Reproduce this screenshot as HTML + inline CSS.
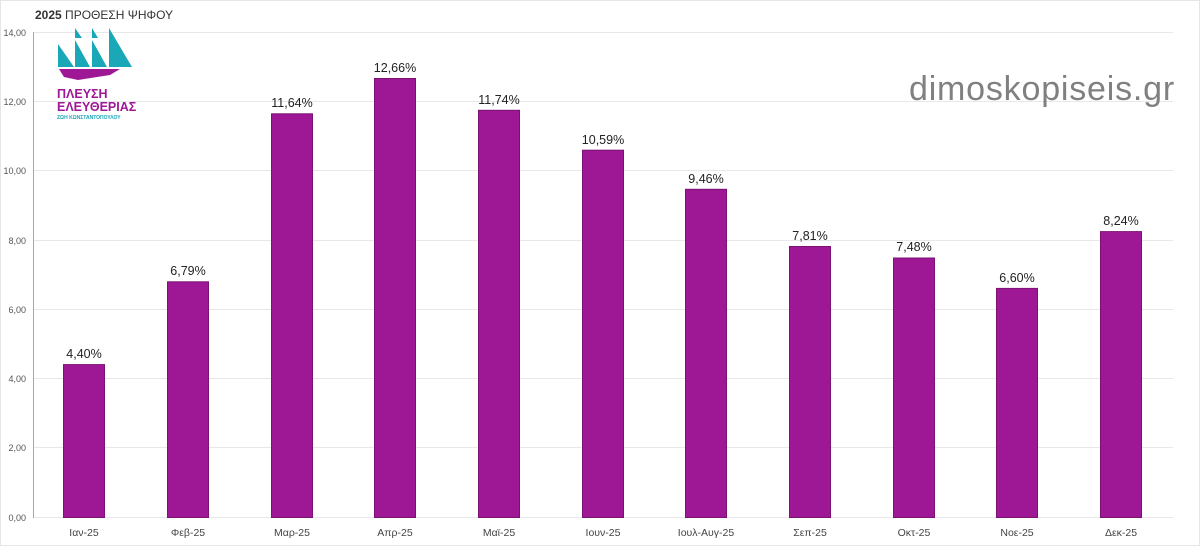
<!DOCTYPE html>
<html><head><meta charset="utf-8"><style>
html,body{margin:0;padding:0;background:#fff}
svg{display:block;font-family:"Liberation Sans",sans-serif}
</style></head><body>
<svg width="1200" height="546" viewBox="0 0 1200 546" xmlns="http://www.w3.org/2000/svg">
<rect x="0.5" y="0.5" width="1199" height="545" fill="#fff" stroke="#e6e6e6"/>
<text x="35" y="19" font-size="12" fill="#333"><tspan font-weight="bold">2025</tspan> ΠΡΟΘΕΣΗ ΨΗΦΟΥ</text>
<g stroke="#e8e8e8" stroke-width="1">
<line x1="33" y1="32.5" x2="1173" y2="32.5"/>
<line x1="33" y1="101.5" x2="1173" y2="101.5"/>
<line x1="33" y1="170.5" x2="1173" y2="170.5"/>
<line x1="33" y1="240.5" x2="1173" y2="240.5"/>
<line x1="33" y1="309.5" x2="1173" y2="309.5"/>
<line x1="33" y1="378.5" x2="1173" y2="378.5"/>
<line x1="33" y1="447.5" x2="1173" y2="447.5"/>
<line x1="33" y1="517.5" x2="1173" y2="517.5"/>
</g>
<line x1="33.5" y1="32" x2="33.5" y2="518" stroke="#9aaabb"/>
<g font-size="9" fill="#555" text-anchor="end">
<text x="26" y="36">14,00</text><text x="26" y="105">12,00</text><text x="26" y="174">10,00</text>
<text x="26" y="244">8,00</text><text x="26" y="313">6,00</text><text x="26" y="382">4,00</text>
<text x="26" y="451">2,00</text><text x="26" y="521">0,00</text>
</g>
<g fill="#9e1896" stroke="#7a1273" stroke-width="1">
<rect x="63.5" y="364.6" width="41" height="152.9"/>
<rect x="167.5" y="281.8" width="41" height="235.7"/>
<rect x="271.5" y="113.8" width="41" height="403.7"/>
<rect x="374.5" y="78.5" width="41" height="439"/>
<rect x="478.5" y="110.3" width="41" height="407.2"/>
<rect x="582.5" y="150.2" width="41" height="367.3"/>
<rect x="685.5" y="189.3" width="41" height="328.2"/>
<rect x="789.5" y="246.5" width="41" height="271"/>
<rect x="893.5" y="258" width="41" height="259.5"/>
<rect x="996.5" y="288.4" width="41" height="229.1"/>
<rect x="1100.5" y="231.6" width="41" height="285.9"/>
</g>
<g font-size="12.5" fill="#222" text-anchor="middle">
<text x="84" y="358">4,40%</text><text x="188" y="275">6,79%</text><text x="292" y="107">11,64%</text>
<text x="395" y="72">12,66%</text><text x="499" y="104">11,74%</text><text x="603" y="144">10,59%</text>
<text x="706" y="183">9,46%</text><text x="810" y="240">7,81%</text><text x="914" y="251">7,48%</text>
<text x="1017" y="282">6,60%</text><text x="1121" y="225">8,24%</text>
</g>
<g font-size="10.5" fill="#444" text-anchor="middle">
<text x="84" y="536">Ιαν-25</text><text x="188" y="536">Φεβ-25</text><text x="292" y="536">Μαρ-25</text>
<text x="395" y="536">Απρ-25</text><text x="499" y="536">Μαϊ-25</text><text x="603" y="536">Ιουν-25</text>
<text x="706" y="536">Ιουλ-Αυγ-25</text><text x="810" y="536">Σεπ-25</text><text x="914" y="536">Οκτ-25</text>
<text x="1017" y="536">Νοε-25</text><text x="1121" y="536">Δεκ-25</text>
</g>
<text x="1175" y="100" font-size="34" fill="#808080" text-anchor="end" letter-spacing="0.8">dimoskopiseis.gr</text>
<g fill="#1aa7b8">
<polygon points="58,44 58,67 74,67"/>
<polygon points="75,28 75,38 82,38"/>
<polygon points="75,40 75,67 90,67"/>
<polygon points="92,28 92,38 98,38"/>
<polygon points="92,40 92,67 107,67"/>
<polygon points="109,28 109,67 132,67"/>
</g>
<polygon points="59,69 120,69 110,75 78,80 64,77" fill="#9e1896"/>
<text x="57" y="98" font-size="12.5" font-weight="bold" fill="#9e1896">ΠΛΕΥΣΗ</text>
<text x="57" y="111" font-size="12.5" font-weight="bold" fill="#9e1896">ΕΛΕΥΘΕΡΙΑΣ</text>
<text x="57" y="119" font-size="5" font-weight="bold" fill="#1aa7b8">ΖΩΗ ΚΩΝΣΤΑΝΤΟΠΟΥΛΟΥ</text>
</svg>
</body></html>
